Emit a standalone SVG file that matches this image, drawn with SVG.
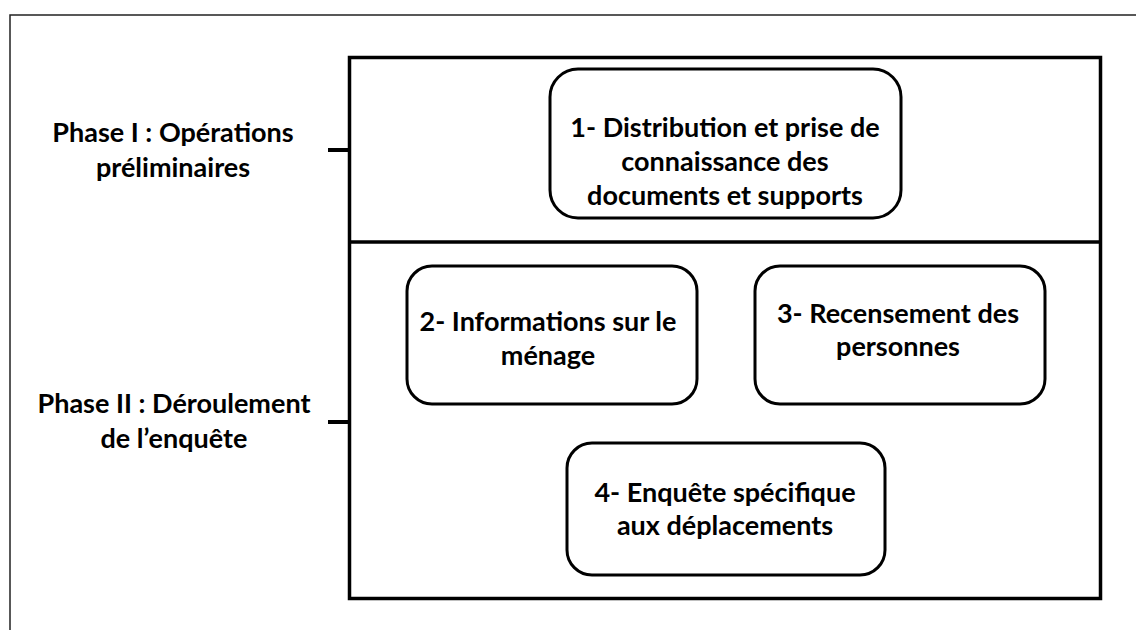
<svg xmlns="http://www.w3.org/2000/svg" width="1136" height="630" viewBox="0 0 1136 630">
<style>
.t{font-family:Lato,"Liberation Sans",sans-serif;font-weight:bold;font-size:27px;fill:#000;text-anchor:middle}
.node{fill:#fff;stroke:#000;stroke-width:3}
.frame{fill:none;stroke:#000;stroke-width:3.5}
.tick{stroke:#000;stroke-width:4}
</style>
<rect width="1136" height="630" fill="#fff"/>
<g id="border">
<path d="M10 630 V15 H1136" fill="none" stroke="#222" stroke-width="1.5"/>
</g>
<g id="container">
<rect class="frame" x="349.5" y="57.5" width="751" height="541"/>
<line class="frame" x1="349.5" y1="242" x2="1100.5" y2="242"/>
</g>
<g id="connectors">
<line class="tick" x1="328" y1="150" x2="350" y2="150"/>
<line class="tick" x1="328" y1="422" x2="350" y2="422"/>
</g>
<g id="phase1">
<text class="t" x="173" y="142">Phase I : Opérations</text>
<text class="t" x="173" y="177">préliminaires</text>
</g>
<g id="phase2">
<text class="t" x="174" y="413">Phase II : Déroulement</text>
<text class="t" x="174" y="448">de l’enquête</text>
</g>
<g id="node1">
<rect class="node" x="550" y="69" width="351" height="149" rx="28"/>
<text class="t" x="725" y="137">1- Distribution et prise de</text>
<text class="t" x="725" y="171">connaissance des</text>
<text class="t" x="725" y="205">documents et supports</text>
</g>
<g id="node2">
<rect class="node" x="407" y="266" width="290" height="138" rx="25"/>
<text class="t" x="548" y="331">2- Informations sur le</text>
<text class="t" x="548" y="365">ménage</text>
</g>
<g id="node3">
<rect class="node" x="755" y="266" width="290" height="138" rx="25"/>
<text class="t" x="898" y="323">3- Recensement des</text>
<text class="t" x="898" y="356">personnes</text>
</g>
<g id="node4">
<rect class="node" x="567" y="443" width="318" height="132" rx="25"/>
<text class="t" x="725" y="502">4- Enquête spécifique</text>
<text class="t" x="725" y="535">aux déplacements</text>
</g>
</svg>
